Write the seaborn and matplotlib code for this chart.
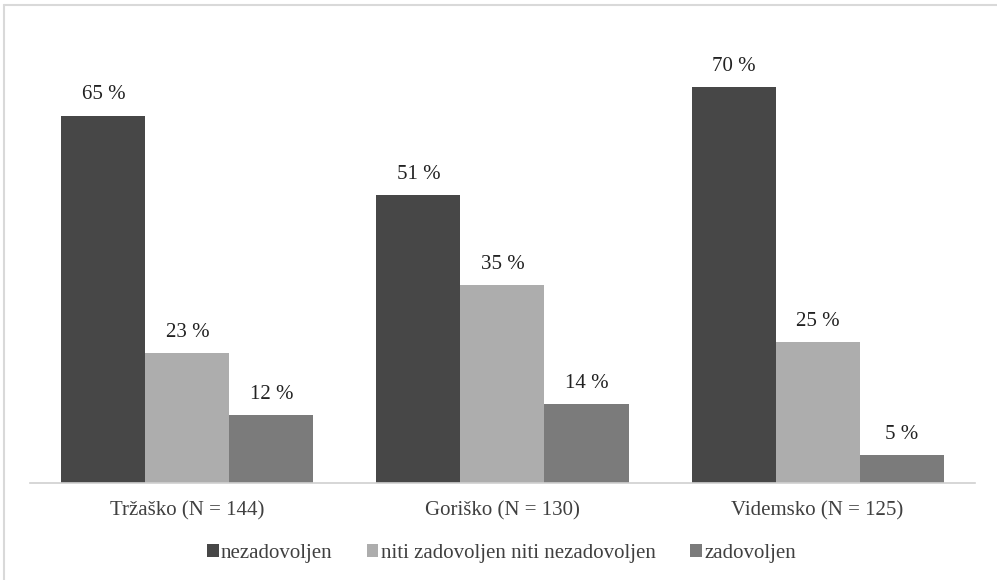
import matplotlib
matplotlib.use("Agg")
import matplotlib.pyplot as plt
import seaborn as sns
import pandas as pd
from matplotlib.lines import Line2D
from matplotlib.patches import Patch

# Satisfaction shares by region (percent)
regions = ["Tržaško (N = 144)", "Goriško (N = 130)", "Videmsko (N = 125)"]
answers = ["nezadovoljen", "niti zadovoljen niti nezadovoljen", "zadovoljen"]
nezadovoljen = [65, 51, 70]
niti = [23, 35, 25]
zadovoljen = [12, 14, 5]
colors = ["#474747", "#adadad", "#7b7b7b"]

rows = []
for series, vals in zip(answers, [nezadovoljen, niti, zadovoljen]):
    for reg, v in zip(regions, vals):
        rows.append({"regija": reg, "odgovor": series, "delež": v})
df = pd.DataFrame(rows)

sns.set_theme(style="white")
SERIF = ["Liberation Serif", "DejaVu Serif"]
plt.rcParams["font.family"] = SERIF

fig = plt.figure(figsize=(9.97, 5.80), dpi=100)
ax = fig.add_axes([0.030, 0.167, 0.948, 0.780])

sns.barplot(data=df, x="regija", y="delež", hue="odgovor", order=regions,
            hue_order=answers, palette=colors, width=0.8, saturation=1,
            edgecolor="none", linewidth=0, legend=False, ax=ax)

for container in ax.containers:
    ax.bar_label(container, labels=[f"{v:g} %" for v in container.datavalues],
                 padding=8, fontsize=15, color="#222222", family=SERIF)

ax.set_xlim(-0.5, 2.5)
ax.set_ylim(0, 80)
ax.set_xlabel("")
ax.set_ylabel("")
ax.set_yticks([])
ax.tick_params(axis="x", length=0, pad=13, labelsize=15, labelcolor="#404040")
for lbl in ax.get_xticklabels():
    lbl.set_family(SERIF)
for side in ["top", "right", "left"]:
    ax.spines[side].set_visible(False)
ax.spines["bottom"].set_color("#d0d0d0")
ax.spines["bottom"].set_linewidth(1.2)

handles = [Patch(facecolor=c, edgecolor="none") for c in colors]
fig.legend(handles, answers, loc="center", bbox_to_anchor=(0.503, 0.046),
           ncol=3, frameon=False, handlelength=0.55,
           handleheight=0.55, handletextpad=0.12, columnspacing=1.65,
           labelcolor="#404040", prop={"family": SERIF, "size": 15})

# Chart frame
fig.add_artist(Line2D([0.004, 1.0], [0.991, 0.991], transform=fig.transFigure,
                      color="#d9d9d9", linewidth=1.5))
fig.add_artist(Line2D([0.004, 0.004], [0.0, 0.991], transform=fig.transFigure,
                      color="#d9d9d9", linewidth=1.5))

fig.savefig("out.png", dpi=100)
